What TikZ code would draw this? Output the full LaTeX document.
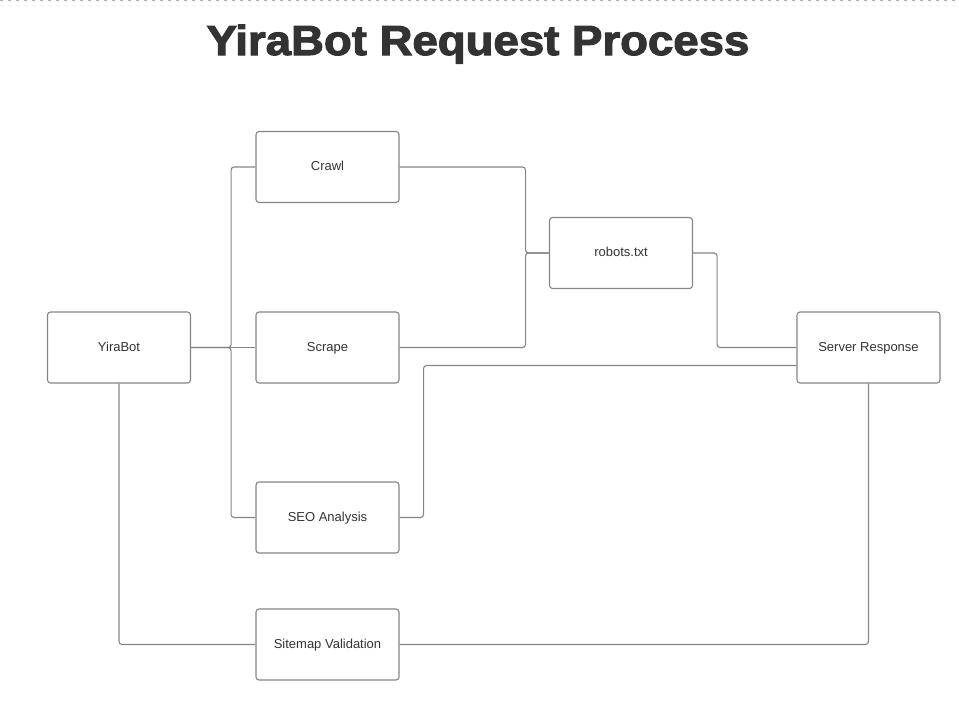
\documentclass[tikz,border=0pt]{standalone}
\usepackage{fontspec}
\setmainfont{Liberation Sans}
\newfontfamily\titlefont[FakeBold=2.5]{Liberation Sans Bold}
\usepackage{tikz}
\usetikzlibrary{positioning,calc}
\usepackage{xcolor}
\definecolor{inkgray}{HTML}{333333}
\definecolor{edgegray}{HTML}{858585}
\definecolor{rulegray}{HTML}{B0B0B0}

\begin{document}
\begin{tikzpicture}[x=1pt, y=-1pt,
    box/.style={rectangle, draw=edgegray, line width=1.1pt, rounded corners=3pt,
        minimum width=143pt, minimum height=71pt, fill=white, text=inkgray,
        font=\fontsize{13}{15}\selectfont, text height=9.5pt, text depth=2pt},
    link/.style={draw=edgegray, line width=1.1pt, rounded corners=3pt}
]
\useasboundingbox (0,0) rectangle (959,720);
\draw[rulegray, line width=1pt, dash pattern=on 3pt off 5pt] (0,0.5) -- (959,0.5);

\node[anchor=base, text=inkgray] (title) at (478,55)
    {\scalebox{1.085}[1]{\fontsize{42}{48}\titlefont YiraBot Request Process}};

\node[box] (yira) at (119,347.5) {YiraBot};
\node[box] (crawl) at (327.5,167) {Crawl};
\node[box] (scrape) at (327.5,347.5) {Scrape};
\node[box] (seo) at (327.5,517.5) {SEO Analysis};
\node[box] (sitemap) at (327.5,644.5) {Sitemap Validation};
\node[box] (robots) at (621,253) {robots.txt};
\node[box] (server) at (868.5,347.5) {Server Response};

\draw[link] (yira.east) -- ++(40,0) |- (crawl.west);
\draw[link] (yira.east) -- (scrape.west);
\draw[link] (yira.east) -- ++(40,0) |- (seo.west);
\draw[link] (yira.south) |- (sitemap.west);

\draw[link] (crawl.east) -- ++(126,0) |- (robots.west);
\draw[link] (scrape.east) -- ++(126,0) |- (robots.west);
\draw[link] (robots.east) -- ++(24,0) |- (server.west);
\draw[link] (seo.east) -- ++(24,0) |- ([yshift=-18pt]server.west);
\draw[link] (sitemap.east) -| (server.south);
\end{tikzpicture}
\end{document}
